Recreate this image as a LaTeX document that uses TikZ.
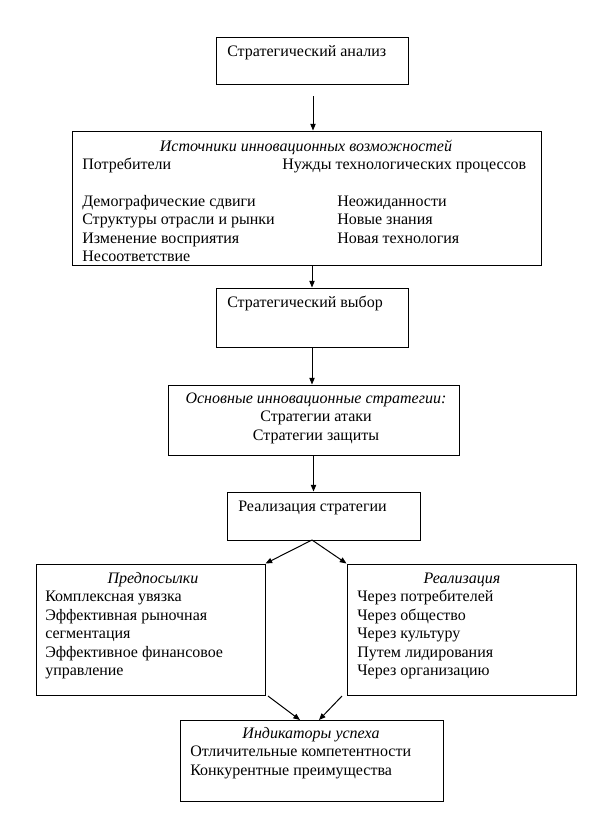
\documentclass[tikz,border=0pt]{standalone}
\usepackage{fontspec}
\setmainfont{Liberation Serif}
\usetikzlibrary{arrows.meta, positioning, fit}

\begin{document}
\begin{tikzpicture}[
  x=0.75pt, y=-0.75pt,
  >={Triangle[length=5pt, width=4pt]},
  every node/.style={font=\fontsize{12pt}{13.875pt}\selectfont},
  box/.style={draw, line width=0.75pt, inner sep=0pt},
  txt/.style={anchor=base west, align=left, inner sep=0pt},
  head/.style={anchor=base, align=center, inner sep=0pt, font=\fontsize{12pt}{13.875pt}\selectfont\itshape},
  flow/.style={->, line width=0.75pt}
]
\useasboundingbox (0,0) rectangle (613,829);
% boxes
\node[box, fit={(216,37) (408,84)}]   (anal)   {};
\node[box, fit={(72,131) (541,265)}]  (src)    {};
\node[box, fit={(216,288) (408,347)}] (choice) {};
\node[box, fit={(168,385) (459,455)}] (strat)  {};
\node[box, fit={(227,492) (420,540)}] (impl)   {};
\node[box, fit={(36,564) (265,695)}]  (pre)    {};
\node[box, fit={(347,564) (576,695)}] (real)   {};
\node[box, fit={(180,720) (443,801)}] (ind)    {};
% texts (multi-line nodes sit on their last line)
\node[txt] (analtxt) at (227,56) {Стратегический анализ};
\node[head] (srchead) at (306,151) {Источники инновационных возможностей};
\node[txt] (srcl) at (82,169) {Потребители};
\node[txt] (srcr) at (282,169) {Нужды технологических процессов};
\node[txt] (srcleft) at (82,261.5) {Демографические сдвиги\\Структуры отрасли и рынки\\Изменение восприятия\\Несоответствие};
\node[txt] (srcright) at (337,243) {Неожиданности\\Новые знания\\Новая технология};
\node[txt] (choicetxt) at (227,307) {Стратегический выбор};
\node[head] (strathead) at (316,403) {Основные инновационные стратегии:};
\node[anchor=base, align=center, inner sep=0pt] (strattxt) at (316,440) {Стратегии атаки\\Стратегии защиты};
\node[txt] (impltxt) at (238,511) {Реализация стратегии};
\node[head] (prehead) at (153,583) {Предпосылки};
\node[txt] (pretxt) at (45,675.5) {Комплексная увязка\\Эффективная рыночная\\сегментация\\Эффективное финансовое\\управление};
\node[head] (realhead) at (462,583) {Реализация};
\node[txt] (realtxt) at (357,675.5) {Через потребителей\\Через общество\\Через культуру\\Путем лидирования\\Через организацию};
\node[head] (indhead) at (311,738) {Индикаторы успеха};
\node[txt] (indtxt) at (190,775) {Отличительные компетентности\\Конкурентные преимущества};
% connectors
\coordinate (a1) at (313,96);
\coordinate (split) at (312,540);
\coordinate (preout) at (268,696);
\coordinate (realout) at (342,696);
\coordinate (indl) at (300,720);
\coordinate (indr) at (319,720);
\draw[flow] (a1) -- (a1 |- src.north);
\draw[flow] (choice.north |- src.south) -- (choice.north);
\draw[flow] (choice.south) -- (choice.south |- strat.north);
\draw[flow] (strat.south) -- (strat.south |- impl.north);
\draw[flow] (split) -- (pre.north east);
\draw[flow] (split) -- (real.north west);
\draw[flow] (preout) -- (indl);
\draw[flow] (realout) -- (indr);
\end{tikzpicture}
\end{document}
